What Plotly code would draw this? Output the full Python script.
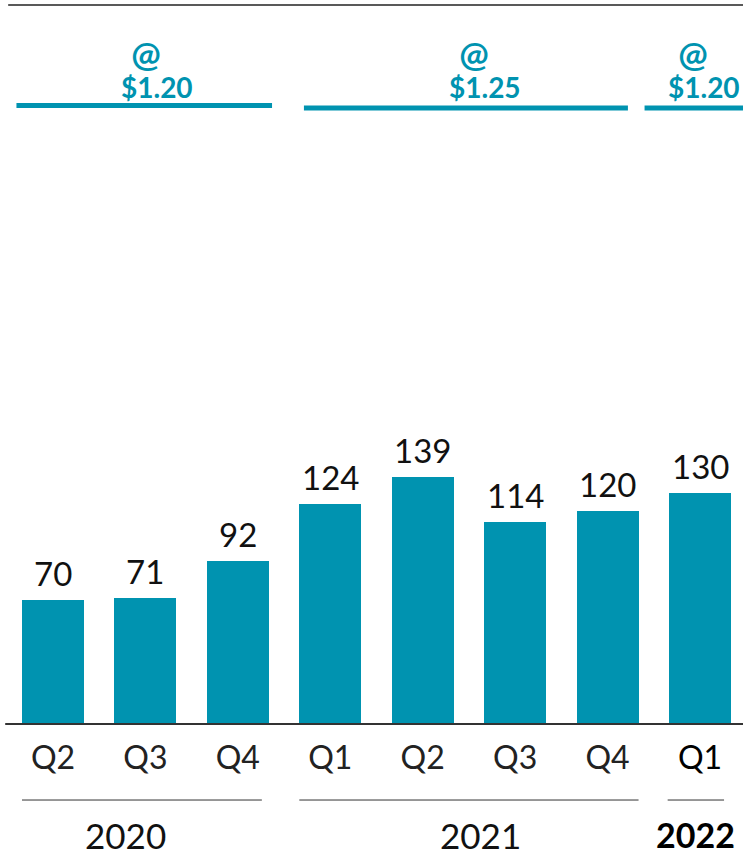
import plotly.graph_objects as go

# ---- data ----
quarters = ["Q2", "Q3", "Q4", "Q1", "Q2", "Q3", "Q4", "Q1"]
values = [70, 71, 92, 124, 139, 114, 120, 130]
years = ["2020", "2021", "2022"]
year_groups = [(0, 2), (3, 6), (7, 7)]          # first/last bar index per year
prices = ["$1.20", "$1.25", "$1.20"]
price_groups = [(0, 2), (3, 6), (7, 7)]

TEAL = "#0093B0"
FONT = "Lato"

x_idx = list(range(len(values)))
ticktext = quarters[:-1] + ["<span style='color:#000'>" + quarters[-1] + "</span>"]

fig = go.Figure()
fig.add_trace(go.Bar(
    x=x_idx, y=values, width=0.67,
    marker=dict(color=TEAL, line=dict(width=0)),
    cliponaxis=False, hoverinfo="skip",
))

shapes = []
annotations = []

# value labels above bars
for i, v in zip(x_idx, values):
    annotations.append(dict(x=i, y=v, xref="x", yref="y", text=str(v),
                            showarrow=False, yanchor="bottom", yshift=5,
                            font=dict(family=FONT, size=33, color="#111")))

# top gray rule
shapes.append(dict(type="line", xref="paper", yref="paper", x0=0.011, x1=1,
                   y0=0.9931, y1=0.9931, line=dict(color="#595959", width=2)))
# baseline
shapes.append(dict(type="line", xref="paper", yref="paper", x0=0.007, x1=1,
                   y0=0, y1=0, line=dict(color="#333", width=2)))

# price bands
band_ext = [(-0.06, 0.035), (0.05, -0.115), (-0.265, 0.3)]
band_y = [0.8543, 0.8508, 0.8508]
price_shift = [0.13, 0.17, 0.04]
NB = "&nbsp;" * 3
for i, (p, (a, b)) in enumerate(zip(prices, price_groups)):
    x0 = a - 0.335 + band_ext[i][0]
    x1 = b + 0.335 + band_ext[i][1]
    shapes.append(dict(type="line", xref="x", yref="paper", x0=x0, x1=x1,
                       y0=band_y[i], y1=band_y[i], line=dict(color=TEAL, width=5)))
    c = (a + b) / 2
    txt = ("<span style='font-size:35px'><b>@</b></span>"
           "<span style='font-size:28px'>" + NB + "</span><br>"
           "<span style='font-size:28px'><b>" + p + "</b></span>")
    annotations.append(dict(x=c + price_shift[i], y=(724 - 68) / 724,
                            xref="x", yref="paper", text=txt, align="center",
                            showarrow=False, yanchor="middle",
                            font=dict(family=FONT, size=24, color=TEAL)))

# year rules and labels
year_ext = [(0.0, -0.075), (0.0, 0.0), (-0.015, -0.075)]
year_shift = [-0.21, 0.13, -0.05]
for i, (yr, (a, b)) in enumerate(zip(years, year_groups)):
    x0 = a - 0.335 + year_ext[i][0]
    x1 = b + 0.335 + year_ext[i][1]
    shapes.append(dict(type="line", xref="x", yref="paper", x0=x0, x1=x1,
                       y0=-0.105, y1=-0.105, line=dict(color="#333", width=1)))
    last = i == len(years) - 1
    annotations.append(dict(
        x=(a + b) / 2 + year_shift[i], y=-0.1533, xref="x", yref="paper",
        text=("<b>" + yr + "</b>") if last else yr, showarrow=False, yanchor="middle",
        font=dict(family=FONT, size=34 if last else 35, color="#000" if last else "#111")))

fig.update_layout(
    width=743, height=855,
    margin=dict(l=0, r=0, t=0, b=131),
    paper_bgcolor="white", plot_bgcolor="white",
    showlegend=False,
    bargap=0,
    xaxis=dict(range=[-0.573, 7.465], tickvals=x_idx, ticktext=ticktext,
               tickfont=dict(family=FONT, size=32, color="#222"),
               ticks="outside", ticklen=6, tickcolor="rgba(0,0,0,0)",
               showgrid=False, zeroline=False, showline=False, fixedrange=True),
    yaxis=dict(range=[0, 408], visible=False, showgrid=False, zeroline=False,
               fixedrange=True),
    shapes=shapes, annotations=annotations,
)

fig.write_html("out.html")
